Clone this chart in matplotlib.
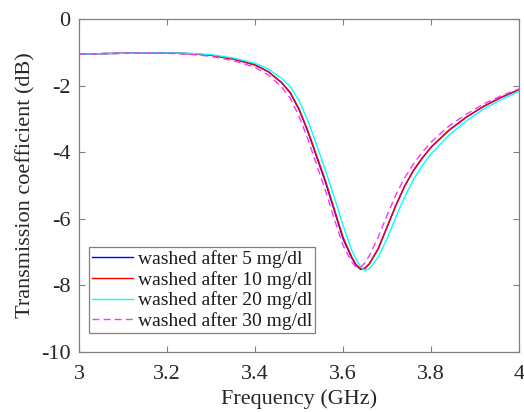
import matplotlib
matplotlib.use("Agg")
import matplotlib.pyplot as plt

plt.rcParams['font.family'] = ['Liberation Serif', 'DejaVu Serif']
plt.rcParams['axes.unicode_minus'] = False

freq = [3.00, 3.05, 3.10, 3.15, 3.20, 3.25, 3.30, 3.35, 3.40, 3.43, 3.46, 3.48,
        3.50, 3.52, 3.54, 3.56, 3.58, 3.60, 3.62, 3.63, 3.64, 3.65, 3.66, 3.68,
        3.70, 3.72, 3.74, 3.76, 3.78, 3.80, 3.84, 3.88, 3.92, 3.96, 4.00]

s21_5 = [-1.05, -1.04, -1.03, -1.02, -1.02, -1.04, -1.09, -1.20, -1.38, -1.58, -1.91, -2.22,
         -2.72, -3.38, -4.14, -4.90, -5.75, -6.60, -7.18, -7.40, -7.52, -7.49, -7.35, -6.90,
         -6.25, -5.60, -5.02, -4.55, -4.18, -3.85, -3.35, -2.95, -2.62, -2.35, -2.12]

s21_10 = [-1.05, -1.04, -1.03, -1.02, -1.02, -1.04, -1.09, -1.20, -1.38, -1.58, -1.90, -2.20,
          -2.70, -3.35, -4.10, -4.85, -5.70, -6.55, -7.15, -7.38, -7.50, -7.48, -7.35, -6.90,
          -6.25, -5.60, -5.02, -4.55, -4.18, -3.85, -3.35, -2.95, -2.62, -2.35, -2.12]

s21_20 = [-1.05, -1.04, -1.03, -1.02, -1.02, -1.03, -1.07, -1.17, -1.33, -1.50, -1.78, -2.03,
          -2.45, -3.05, -3.78, -4.55, -5.35, -6.20, -6.95, -7.22, -7.45, -7.55, -7.50, -7.15,
          -6.60, -5.95, -5.35, -4.82, -4.40, -4.05, -3.50, -3.06, -2.70, -2.42, -2.17]

s21_30 = [-1.05, -1.04, -1.03, -1.02, -1.03, -1.06, -1.12, -1.25, -1.45, -1.68, -2.03, -2.38,
          -2.92, -3.60, -4.38, -5.15, -6.00, -6.80, -7.30, -7.45, -7.45, -7.32, -7.10, -6.55,
          -5.90, -5.28, -4.77, -4.35, -4.00, -3.70, -3.22, -2.86, -2.55, -2.30, -2.10]

labels = ['washed after 5 mg/dl', 'washed after 10 mg/dl',
          'washed after 20 mg/dl', 'washed after 30 mg/dl']
xticks = [3, 3.2, 3.4, 3.6, 3.8, 4]
xticklabels = ['3', '3.2', '3.4', '3.6', '3.8', '4']
yticks = [0, -2, -4, -6, -8, -10]
yticklabels = ['0', '-2', '-4', '-6', '-8', '-10']

fig = plt.figure(figsize=(5.24, 4.12), dpi=100)
ax = fig.add_axes([0.1508, 0.1456, 0.8397, 0.8083])

ax.plot(freq, s21_5, color='#0000ff', lw=1.0, label=labels[0])
ax.plot(freq, s21_10, color='#ff0000', lw=1.0, label=labels[1])
ax.plot(freq, s21_20, color='#00ffff', lw=1.0, label=labels[2])
ax.plot(freq, s21_30, color='#ff33ff', lw=1.0, ls=(0, (5, 3)), label=labels[3])

ax.set_xlim(3, 4)
ax.set_ylim(-10, 0)
ax.set_xticks(xticks)
ax.set_xticklabels(xticklabels)
ax.set_yticks(yticks)
ax.set_yticklabels(yticklabels)

axcol = '#808080'
for sp in ax.spines.values():
    sp.set_color(axcol)
    sp.set_linewidth(0.9)
ax.tick_params(direction='in', top=True, right=True, length=4, width=0.8,
               color=axcol, labelsize=16, labelcolor='#262626')
ax.tick_params(axis='x', pad=9)
ax.tick_params(axis='y', pad=6)

ax.set_xlabel('Frequency (GHz)', fontsize=16, color='#262626', labelpad=4)
ax.set_ylabel('Transmission coefficient (dB)', fontsize=16, color='#262626', labelpad=4)

leg = ax.legend(loc='lower left', bbox_to_anchor=(0.0227, 0.057), borderaxespad=0,
                fontsize=14, frameon=True, fancybox=False, framealpha=1,
                edgecolor=axcol, handlelength=2.1, handletextpad=0.25,
                borderpad=0.15, labelspacing=0.15)
leg.get_frame().set_linewidth(0.9)
for t in leg.get_texts():
    t.set_color('#1a1a1a')

fig.savefig('out.png', dpi=100)
